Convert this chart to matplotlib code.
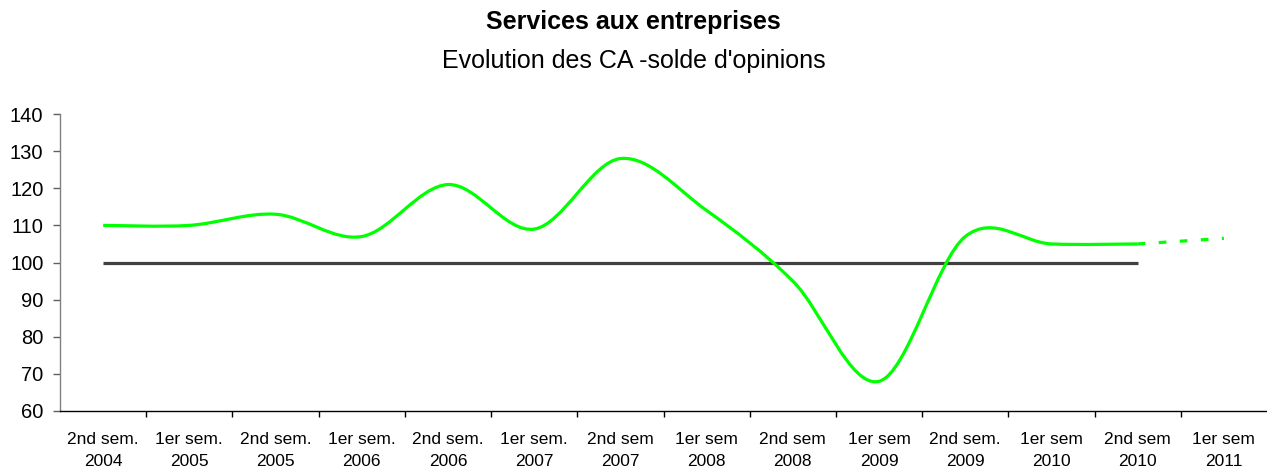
import matplotlib
matplotlib.use("Agg")
import matplotlib.pyplot as plt
import numpy as np
from matplotlib.path import Path
from matplotlib.patches import PathPatch

plt.rcParams['font.family'] = ['Liberation Sans', 'DejaVu Sans']

# --- data ---
periods = ['2nd sem.\n2004', '1er sem.\n2005', '2nd sem.\n2005', '1er sem.\n2006',
           '2nd sem.\n2006', '1er sem.\n2007', '2nd sem\n2007', '1er sem\n2008',
           '2nd sem\n2008', '1er sem\n2009', '2nd sem.\n2009', '1er sem\n2010',
           '2nd sem\n2010', '1er sem\n2011']
ca_solde = [110, 110, 113, 107, 121, 109, 128, 114, 95, 68, 107, 105, 105]
forecast = [105, 106.5]          # 2nd sem 2010 -> 1er sem 2011
reference = [100] * 13

GREEN = '#00FF00'
DARK = '#404040'


def smooth_path(xs, ys):
    """Catmull-Rom style cubic bezier path through the points (like Excel smoothing)."""
    pts = np.column_stack([xs, ys]).astype(float)
    n = len(pts)
    verts = [pts[0]]
    codes = [Path.MOVETO]
    for i in range(n - 1):
        p0 = pts[max(i - 1, 0)]
        p1 = pts[i]
        p2 = pts[i + 1]
        p3 = pts[min(i + 2, n - 1)]
        c1 = p1 + (p2 - p0) / 6.0
        c2 = p2 - (p3 - p1) / 6.0
        verts += [c1, c2, p2]
        codes += [Path.CURVE4] * 3
    return Path(verts, codes)


fig = plt.figure(figsize=(12.67, 4.68), dpi=100)
ax = fig.add_axes([0.0474, 0.1218, 0.9526, 0.6346])

x = np.arange(len(periods))

# reference line at 100
ax.plot(x[:len(reference)], reference, color=DARK, lw=2.3, solid_capstyle='butt', zorder=2)

# smoothed green series
patch = PathPatch(smooth_path(x[:len(ca_solde)], ca_solde), facecolor='none',
                  edgecolor=GREEN, lw=2.3, zorder=3)
ax.add_patch(patch)

# dashed forecast
ax.plot(x[len(ca_solde) - 1:len(ca_solde) - 1 + len(forecast)], forecast, color=GREEN,
        lw=2.3, linestyle=(0, (2.4, 4.2)), zorder=3)

ax.set_xlim(-0.5, len(periods) - 0.5)
ax.set_ylim(60, 140)
ax.set_yticks(range(60, 141, 10))
ax.set_xticks(x)
ax.set_xticklabels(periods, fontsize=12.5, linespacing=1.58)
ax.set_xticks(np.arange(0.5, len(periods) - 0.5, 1), minor=True)
ax.tick_params(axis='x', which='major', length=0, pad=15)
ax.tick_params(axis='x', which='minor', length=4, width=1, color='black', direction='out')
ax.tick_params(axis='y', length=5, width=1, color='#606060', labelsize=14.5, pad=7)

for side in ['top', 'right']:
    ax.spines[side].set_visible(False)
ax.spines['left'].set_color('#808080')
ax.spines['bottom'].set_color('black')
ax.spines['left'].set_linewidth(1)
ax.spines['bottom'].set_linewidth(1)

fig.text(0.5, 0.953, 'Services aux entreprises', ha='center', va='center',
         fontsize=18, fontweight='bold')
fig.text(0.5, 0.869, "Evolution des CA -solde d'opinions", ha='center', va='center',
         fontsize=18)

fig.savefig('out.png', dpi=100)
